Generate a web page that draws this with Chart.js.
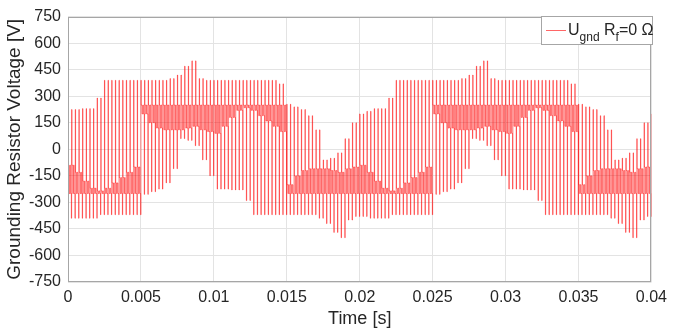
<!DOCTYPE html>
<html>
<head>
<meta charset="utf-8">
<script src="https://cdn.jsdelivr.net/npm/chart.js@4.4.0/dist/chart.umd.min.js"></script>
<style>
  html, body { margin: 0; padding: 0; background: #fff; }
  #wrap { width: 673px; height: 333px; }
</style>
</head>
<body>
<div id="wrap"><canvas id="gndChart" width="673" height="333"></canvas></div>
<script>
// envelope of the switching waveform, read every 0.5 ms
const sampleTimes = [0, 0.0005, 0.001, 0.0015, 0.002, 0.0025, 0.003, 0.0035, 0.004, 0.0045,
  0.005, 0.0055, 0.006, 0.0065, 0.007, 0.0075, 0.008, 0.0085, 0.009, 0.0095,
  0.01, 0.0105, 0.011, 0.0115, 0.012, 0.0125, 0.013, 0.0135, 0.014, 0.0145,
  0.015, 0.0155, 0.016, 0.0165, 0.017, 0.0175, 0.018, 0.0185, 0.019, 0.0195,
  0.02, 0.0205, 0.021, 0.0215, 0.022, 0.0225, 0.023, 0.0235, 0.024, 0.0245,
  0.025, 0.0255, 0.026, 0.0265, 0.027, 0.0275, 0.028, 0.0285, 0.029, 0.0295,
  0.03, 0.0305, 0.031, 0.0315, 0.032, 0.0325, 0.033, 0.0335, 0.034, 0.0345,
  0.035, 0.0355, 0.036, 0.0365, 0.037, 0.0375, 0.038, 0.0385, 0.039, 0.0395, 0.04];

const topLevel = [225, 225, 230, 230, 290, 390, 390, 390, 390, 390,
  390, 390, 390, 390, 400, 420, 470, 500, 400, 390,
  390, 390, 390, 390, 390, 390, 390, 390, 390, 370,
  255, 240, 225, 190, 110, -60, -50, -20, 60, 150,
  200, 215, 230, 230, 290, 390, 390, 390, 390, 390,
  390, 390, 390, 390, 400, 420, 470, 500, 400, 390,
  390, 390, 390, 390, 390, 390, 390, 390, 390, 370,
  255, 240, 225, 190, 110, -60, -50, -20, 60, 150, 200];

const upperDwell = [-90, -130, -180, -220, -235, -220, -190, -160, -130, -100,
  250, 250, 250, 250, 250, 250, 250, 250, 250, 250,
  250, 250, 250, 250, 250, 250, 250, 250, 250, 250,
  -200, -150, -120, -110, -110, -110, -120, -130, -110, -100,
  -90, -130, -180, -220, -235, -220, -190, -160, -130, -100,
  250, 250, 250, 250, 250, 250, 250, 250, 250, 250,
  250, 250, 250, 250, 250, 250, 250, 250, 250, 250,
  -200, -150, -120, -110, -110, -110, -120, -130, -110, -100, -90];

const lowerDwell = [-250, -250, -250, -250, -250, -250, -250, -250, -250, -250,
  200, 150, 120, 110, 110, 110, 120, 130, 110, 100,
  90, 130, 180, 220, 235, 220, 190, 160, 130, 100,
  -250, -250, -250, -250, -250, -250, -250, -250, -250, -250,
  -250, -250, -250, -250, -250, -250, -250, -250, -250, -250,
  200, 150, 120, 110, 110, 110, 120, 130, 110, 100,
  90, 130, 180, 220, 235, 220, 190, 160, 130, 100,
  -250, -250, -250, -250, -250, -250, -250, -250, -250, -250, -250];

const bottomLevel = [-390, -390, -390, -390, -370, -370, -370, -370, -370, -370,
  -255, -240, -225, -190, -110, 60, 50, 20, -60, -150,
  -225, -225, -230, -230, -290, -370, -370, -370, -370, -370,
  -370, -370, -370, -370, -390, -420, -470, -500, -400, -380,
  -380, -390, -390, -390, -370, -370, -370, -370, -370, -370,
  -255, -240, -225, -190, -110, 60, 50, 20, -60, -150,
  -225, -225, -230, -230, -290, -370, -370, -370, -370, -370,
  -370, -370, -370, -370, -390, -420, -470, -500, -400, -380, -370];

const xTickValues = [0, 0.005, 0.01, 0.015, 0.02, 0.025, 0.03, 0.035, 0.04];
const xTickLabels = ['0', '0.005', '0.01', '0.015', '0.02', '0.025', '0.03', '0.035', '0.04'];

// two switching periods per sample: pulse to the top, toggling between the two
// dwell levels, then a pulse to the bottom
const periodsPerSample = 2;
const switchPattern = [
  [0.00, 'top'], [0.08, 'hi'], [0.30, 'lo'], [0.50, 'hi'],
  [0.70, 'lo'], [0.92, 'bottom']
];
const switchingPoints = [];
for (let k = 0; k < sampleTimes.length - 1; k++) {
  const levels = { top: topLevel[k], hi: upperDwell[k], lo: lowerDwell[k], bottom: bottomLevel[k] };
  const P = (sampleTimes[k + 1] - sampleTimes[k]) / periodsPerSample;
  for (let p = 0; p < periodsPerSample; p++) {
    const t0 = sampleTimes[k] + p * P;
    switchPattern.forEach(([frac, level]) => {
      switchingPoints.push({ x: t0 + frac * P, y: levels[level] });
    });
  }
}
const last = sampleTimes.length - 1;
switchingPoints.push({ x: sampleTimes[last], y: topLevel[last] });

const FONT = '"Liberation Sans", Arial, sans-serif';
const TEXT = '#262626';
const LINE_RED = 'rgba(255, 0, 0, 0.5)';

const frameAndLegend = {
  id: 'frameAndLegend',
  afterDatasetsDraw(chart) {
    const { ctx, chartArea: { left, top, right, bottom } } = chart;
    ctx.save();
    ctx.strokeStyle = '#a6a6a6';
    ctx.lineWidth = 1;
    ctx.strokeRect(Math.round(left) + 0.5, Math.round(top) + 0.5,
      Math.round(right - left) - 1, Math.round(bottom - top) - 1);

    // legend box, top right
    const bx = 541.5, by = 16.5, bw = 111, bh = 28;
    ctx.fillStyle = '#fff';
    ctx.fillRect(bx, by, bw, bh);
    ctx.strokeStyle = '#a6a6a6';
    ctx.strokeRect(bx, by, bw, bh);
    ctx.strokeStyle = 'rgba(255, 0, 0, 0.6)';
    ctx.beginPath();
    ctx.moveTo(546, 30.5);
    ctx.lineTo(566, 30.5);
    ctx.stroke();

    const pieces = [
      { text: 'U', size: 16, dy: 0 },
      { text: 'gnd', size: 12, dy: 6 },
      { text: ' R', size: 16, dy: 0 },
      { text: 'f', size: 12, dy: 6 },
      { text: '=0 Ω', size: 16, dy: 0 }
    ];
    let x = 568;
    ctx.fillStyle = TEXT;
    ctx.textBaseline = 'alphabetic';
    pieces.forEach(p => {
      ctx.font = p.size + 'px ' + FONT;
      ctx.fillText(p.text, x, 35 + p.dy);
      x += ctx.measureText(p.text).width;
    });
    ctx.restore();
  }
};

new Chart(document.getElementById('gndChart'), {
  type: 'line',
  data: {
    datasets: [{
      label: 'Ugnd Rf=0 Ω',
      data: switchingPoints,
      borderColor: LINE_RED,
      borderWidth: 1,
      pointRadius: 0,
      stepped: true,
      fill: false
    }]
  },
  options: {
    responsive: false,
    animation: false,
    devicePixelRatio: 1,
    layout: { padding: { left: 0, right: 16, top: 12, bottom: 0 } },
    plugins: {
      legend: { display: false },
      tooltip: { enabled: false }
    },
    scales: {
      x: {
        type: 'linear',
        min: 0,
        max: 0.04,
        afterFit: (axis) => { axis.height = 51; },
        afterBuildTicks: (axis) => { axis.ticks = xTickValues.map(v => ({ value: v })); },
        grid: { color: '#e3e3e3', drawTicks: false },
        border: { display: false },
        ticks: {
          color: TEXT,
          padding: 6,
          maxRotation: 0,
          font: { family: FONT, size: 16 },
          callback: (value, index) => xTickLabels[index]
        },
        title: {
          display: true,
          text: 'Time [s]',
          color: TEXT,
          font: { family: FONT, size: 18 },
          padding: { top: 0, bottom: 3 }
        }
      },
      y: {
        min: -750,
        max: 750,
        afterFit: (axis) => { axis.width = 68; },
        grid: { color: '#e3e3e3', drawTicks: false },
        border: { display: false },
        ticks: {
          stepSize: 150,
          color: TEXT,
          padding: 7,
          font: { family: FONT, size: 16 }
        },
        title: {
          display: true,
          text: 'Grounding Resistor Voltage [V]',
          color: TEXT,
          font: { family: FONT, size: 19 },
          padding: { top: 3, bottom: 0 }
        }
      }
    }
  },
  plugins: [frameAndLegend]
});
</script>
</body>
</html>
